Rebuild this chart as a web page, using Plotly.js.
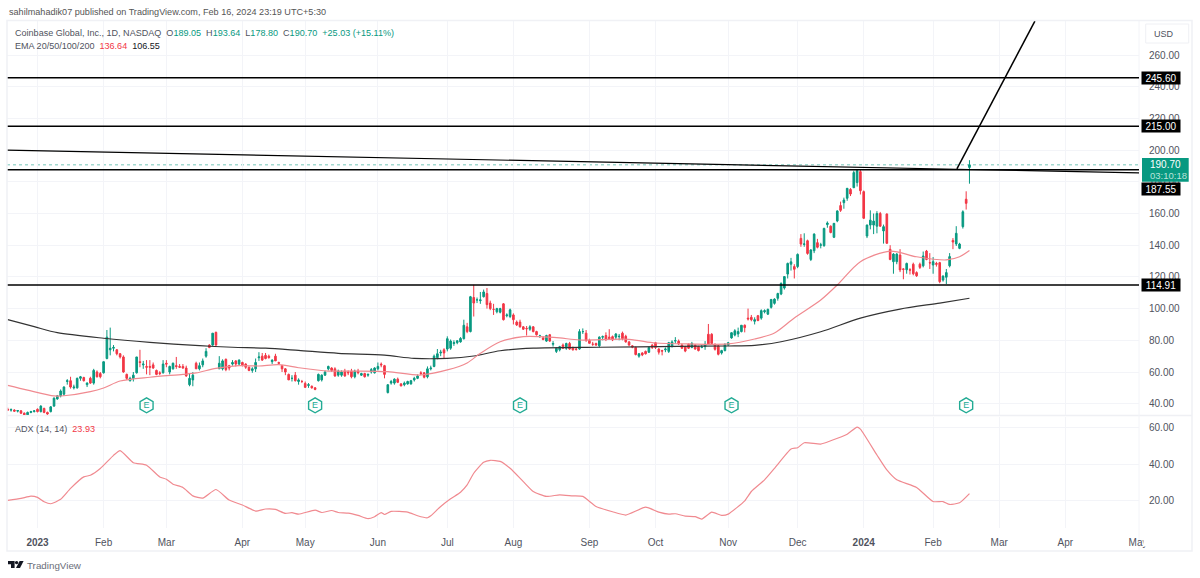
<!DOCTYPE html>
<html><head><meta charset="utf-8">
<script src="https://cdn.plot.ly/plotly-3.0.1.min.js"></script>
<style>html,body{margin:0;padding:0;background:#fff}#c{width:1200px;height:578px}</style>
</head><body><div id="c"></div>
<script>
// Bars run Dec 2022 (index -9) to 16 Feb 2024 (index 282); one row per month.
const firstBar = -9;
const opens = [
36.5,36,36,35.3,35.5,34,33,34.5,35,
36.5,35,37,34.5,35,38.5,43,45,46,54,54.5,50,50,56,56.5,52,56,53,60,59,
59.5,68.5,74,75,74,71.5,69.5,58.5,54.5,56,59.5,66.5,64.5,63.5,63.5,64.5,61,59.5,59.5,
65.5,60,62,64,63.5,63.5,62.5,52,55,65.5,62,64.5,70,77,77,85,62,62,68,64,65,67,65,
66,65,63,61,62,69,70,70.5,70,66.5,70,66,64,62,58.5,56,58,54,54,
52.8,51.5,51,50,54.5,55,58,62,62.5,62,58,58,60.5,60,60.5,57,60.5,58,59,58,60,59.5,
62,65,64,47,53,53,55.5,52.5,52,52.5,52.5,55,56,59.5,59.5,57,62,63.5,69,72,74,
74.5,75,78,78.5,79,81,88.5,85.5,107,105.5,105,107.5,109.5,103.5,99.5,98,97.7,103,95.5,95,
96,91.5,91.5,88.5,87.5,87,88.5,85.5,82.5,81.5,79.5,83.5,77.5,73,74,77,75,78,75.5,74.5,74.5,85.5,84.5,
80,77.5,78,76.5,82,83,82,82.3,82,82.3,84.5,82.5,79,76.5,75.5,70,72,73,72.5,77,
78.5,74.5,73.5,74,73,76,79.5,79.5,77,76,77.5,75.5,77,76,75.5,76,83.8,83.8,77.5,76.5,72,73.5,
77,81.5,83.3,84,85.5,89.5,94,94.5,92,95.5,94,98,96.5,100.8,103.3,106.5,109.2,113,121.8,128,126.5,
126.5,144.3,140.5,142.8,131,136.5,141.6,140,139.7,153,152,145,155.3,165,166.8,169.6,175.2,176.3,179.5,186.4,
173.8,145.8,152.7,152.7,152,160,149,159.7,137.4,129.6,129.6,133.8,125,124.5,124.5,128,122.7,128,127,136.3,129,
127.5,128.5,129,118,119.8,127,143,140.8,138,151.7,169,189.05];
const highs = [
37.5,37,36.5,36,36,34.5,35,35.5,35.8,
37,39,37.5,35,38.5,44,45.5,49,51,55.5,57,52,56.5,57.5,57,53.5,57,62,61,60,
66.5,86.5,88,77,74.5,72,70.5,59,57,60,69.5,74,67,67.5,67.5,66,61.5,60.5,67.5,
67.5,64,66,69.5,65,65,64,59,60,66.5,66,68.5,75,77.5,84.5,85.5,70,68,68.5,64.5,67.5,67.5,68,
66.5,65.5,63.5,63,68.5,72.5,72,72,71,68,71.5,66.5,64.5,62.5,59,58,60,56,55,
54,53,51.5,50.5,59,58.5,61,64,63,63,61.5,61,62,61,62,61.5,62,59.5,59.5,59,62.5,63,
66,66,64.5,52,55,56,56.5,53,54,54.5,55,57,58.5,60.5,60,63.5,64,71,74.5,74,75,
82.5,80.5,80,80,82,93,91,108,115,107,110.5,112,113,105,103,100.5,100.5,103.5,97,100,
97,92.5,93,89,89,89.5,89,86,83.5,82.5,83.5,84,79.5,75.5,76.5,78,78.5,79,76,75.5,87,87.5,86.5,
81,79,78.5,82.5,83,85,87,83,84.5,84,85.5,83.5,79.5,77,76,72,72.5,73.5,76,77.5,
79,75,74,75.5,79,80,82,80.5,78,76.5,78,79,77.5,76.5,77,79.5,90.3,84.5,78,77,74,78,
79,85,87,88,89.5,90,100,96,94.5,96,99.5,99.5,100,106,106.5,110,116.5,120.5,129,132,128,
134.8,147,147.5,143.5,137.5,147.5,144,141.5,151,155,152.5,154,162,167.5,170,176,176,187,187.5,187.8,
174.5,153,162,160,161.5,161,153,160,140,135,135,137.5,125.5,129,125.5,129,123.5,129,136,137,135,
132.5,129.5,129.5,121,125,135,144.5,152,141.5,162,174,193.64];
const lows = [
35.5,35,35,34.5,33.5,32.5,32.8,34,34.5,
34.5,34.5,34,33,34.5,38,42.5,44,45,52,49.5,49,49.5,54.5,54,50.5,52.5,52,56.5,56,
59,68,70.5,73,70.5,68.5,59.5,55,54,54,59,63,62,58.5,58,62,58,58,59,
63,58.5,61.5,62,62.5,62,57,51,51,62,61,63,69,75,76.5,76.5,62,61,60.5,61,64,63.5,64,
63.5,62,60.5,59.5,60,67,67,68,68.5,65,67,65,60,58,55,54,54,52,53,
50,50,49.5,48.5,54,54,57.5,61,60,57,57,57,57,58,56,56,58.5,57.5,56.5,57,59,59,
61,63,56,46.5,52,52,53,51,51,52,52,54,55.5,58,56,56,61,63,68,70,68.5,
73,74,76.5,77.5,78.5,80.5,84.5,85,95,103.5,103,107,100,99,96,97,97,92.5,94.5,94,
90,89,88,86.5,83,86,85,83,81.5,80,79,79,76,72,73,74.5,74,74,73.5,73.5,74,84,79,
78,76.5,76.5,75.5,80,79.5,80.5,79.5,80.5,80,80,78.5,76.5,75,70.5,69,70,71,72,74.5,
74.5,71,70.5,72.5,72,75.5,78,77,74.5,72.5,74.5,75,74,73,75,74,77.5,77.5,73.5,70.5,71,73,
76.5,81,82.5,82,85,85,92.5,92,90,92,93,97,96,100,102.5,105,108.5,112,119,124,119,
125.5,139,139,134,130,135,138,138,139,151,147.5,144.5,154.5,161,163,168,171,176,177,172,
156.5,144.5,150,147,147.5,151.5,141,141,130.5,122,128,123,118.5,122,121.5,121,120,125,126,130.5,125,
122,126.5,116,117,115.5,126,137.5,139.5,137.5,150.5,162.5,178.8];
const closes = [
36,36.2,35.3,35.7,34,33,34.5,35,35.5,
35,38.5,34.5,33.5,38,43.5,45,48,50.5,54.5,50.5,50.5,56,57,54.5,53,53,61,57,57,
66.5,82,75,75.5,71.5,69.5,60,56,56,58,69.5,66,65,63,63,62.5,58.5,59,65,
65,63.5,65.5,63.5,63,62.5,57.5,56,58,62,64,67,73,75.5,84.5,77,65.5,67,61.5,62.5,66,65,67.5,
64.5,63,61,62,66,69.5,67.5,68.5,69,67.5,67,65.5,62,60,55,56,54.5,55,54,
50.3,52,50,49,58.5,58,60,63.5,61,57.5,60.5,60,57.5,59.5,57,60.5,59.5,59,57,58.5,61.5,62.5,
63.5,64.5,58.5,52,54,55.5,53.5,51.2,53,54,54.5,56,57.5,59,56.7,62,62.5,70,71.5,72.5,72,
81,79.5,78.5,79.7,81.2,89.5,85.5,107.5,103.5,105.5,105.5,110.5,102.5,100,99.5,100,100,93,96,99.2,
93,89.7,88.5,87,87.3,88.5,85.5,83.5,82.8,80.5,83,79.5,78,75,76,75,78,74.5,74,74.3,85.5,85.5,80,
78.1,77.5,77,82,82.3,80.5,81,80.2,84,82.5,81,79,77,75.7,71,71.5,70.8,71.5,75.5,75.5,
75.5,72.5,73.2,74.5,78.5,79,79.8,77.7,75,73.2,75,78,74.5,73.5,75.7,77.5,77.7,78,74.3,71.2,73.5,77.5,
78.5,84.8,86,85.5,89.5,88,93.5,93,93,92.5,98.7,98.7,99.5,105.8,106,109.5,115.9,120.2,128.5,129.5,124.8,
134.2,140.7,140.8,134.8,137,147,138.7,140.2,150.6,154,148,153.8,161.6,162,168.5,175.9,172.3,185.8,187,174.4,
157,152.7,155.8,155.2,160,152,151.7,141.2,131,134.4,134.4,124.4,124.8,128.5,124.3,122,120.7,126,133.2,131,128.8,
129.6,128,117,120.5,122.7,132.8,142,147.5,140.7,161.1,166.4,190.7];

const ema50Bars = [-9,-3,5,8,16,20,25,34,44,48,54,61,67,73,79,88,97,106,116,124,130,134,140,147,152,158,164,179,187,197,209,217,223,229,237,242,249,258,266,275,279,282];
const ema50Vals = [51.6,48.6,44.9,45,47.6,49.9,54.3,56.7,58.5,59.4,62.3,64,63.8,64.6,62.7,60.6,60.6,60.2,58.1,61.3,65.7,71.8,79.1,82.3,82.3,81.5,80.2,80.6,78.3,77.7,77.7,80.8,84.6,94.1,105.4,114.9,129.6,136.3,132.7,130.7,132.7,136.64];
const ema200Bars = [-9,-1,6,20,34,49,59,69,79,91,105,114,124,132,140,150,170,194,209,217,225,237,249,261,273,282];
const ema200Vals = [93,88.6,84.8,81.3,78.7,76.6,75.6,75,73.6,71.8,70.6,68.6,68.6,70.1,73.4,75,75.6,76.2,76.4,76.8,79.1,85.4,94,99.7,103.5,106.55];

const adxBars = [-9,-5,-2,0,2,4,7,10,14,16,19,23,25,29,33,37,39,41,44,47,50,54,58,62,66,69,72,75,77,79,84,86,89,91,94,97,100,102,104,105,107,112,115,118,119,122,125,128,130,132,135,137,140,143,147,150,154,158,162,165,169,174,178,184,188,191,193,196,199,201,204,207,209,214,216,220,223,228,230,232,237,240,245,248,249,254,257,260,266,271,274,276,279,282];
const adxVals = [20.2,21.3,22.6,21.9,19.5,18.4,20.8,26.8,33.1,34,37.7,44.9,47.5,40.9,39.5,33.1,31.8,29.1,27.3,22.7,21.5,26.2,20.4,17.7,14.4,15.5,15.3,13.1,13.5,12.7,14.9,13.6,14.7,13.6,13.3,12,10.2,11.3,13.5,12.5,14.2,13.8,11.8,10.7,11.8,16.9,21.1,24.7,28.7,35.1,41.1,42.2,41.6,37.8,30.5,25.1,22.4,23.3,22.7,22.4,16.9,14,12.2,16.5,13.8,12.7,12.9,11.6,11.3,10,13.8,12,12.7,20,25.1,31.5,37.8,48.4,49.1,51.8,51.1,52.9,56.5,60.4,59.3,45.1,36.9,31.5,27.3,19.6,19.6,18,18.9,23.93];

const earningsBars = [33,84,146,210,281];
const earningsLevel = [39,39,39,39,39];
const levels = [245.60,215.00,187.55,114.91];
const lastClose = 190.70;
const priceTicks = [40,60,80,100,120,140,160,180,200,220,240,260];
const adxTicks = [20,40,60];
const timeBars = [0,20,39,62,81,103,124,144,167,187,209,230,250,271,291,311,333];
const timeLabels = ['<b>2023</b>','Feb','Mar','Apr','May','Jun','Jul','Aug','Sep','Oct','Nov','Dec','<b>2024</b>','Feb','Mar','Apr','May'];

const UP='#089981', DOWN='#F23645', SOFT='#f08a90', GRID='#f3f4f8', TXT='#50535e';
const FONT='"Liberation Sans", Arial, sans-serif';
const barIdx = opens.map((_,i)=>firstBar+i);
const L=7,R=1139,T=21,B=528;
const px=x=>(x-L)/(R-L), py=y=>1-(y-T)/(B-T);

function label(text,x,y,opt){return Object.assign({text,xref:'paper',yref:'paper',x:px(x),y:py(y),xanchor:'left',yanchor:'middle',showarrow:false,borderpad:0,font:{family:FONT,size:9.05,color:TXT}},opt||{});}
function tag(text,y,yref){return {text:text,xref:'paper',yref:yref||'paper',x:px(1161),y:y,xanchor:'center',yanchor:'middle',showarrow:false,bgcolor:'#000',width:38,height:12.4,borderpad:0,font:{family:FONT,size:10,color:'#fff'}};}
function rectPx(x0,y0,x1,y1,o){return Object.assign({type:'rect',xref:'paper',yref:'paper',x0:px(x0),x1:px(x1),y0:py(y0),y1:py(y1),layer:'above'},o);}
function pathPx(d,o){return Object.assign({type:'path',xref:'paper',yref:'paper',path:d.replace(/(-?[\d.]+) (-?[\d.]+)/g,(m,a,b)=>px(+a)+' '+py(+b)),layer:'above'},o);}
const hline=(v)=>({type:'line',xref:'paper',yref:'y',x0:0,x1:1,y0:v,y1:v,line:{color:'#000',width:1.5},layer:'above'});

const traces=[
 {type:'scatter',mode:'lines',x:ema200Bars,y:ema200Vals,line:{color:'#333',width:1.2,shape:'spline',smoothing:0.8},hoverinfo:'skip',xaxis:'x',yaxis:'y'},
 {type:'scatter',mode:'lines',x:ema50Bars,y:ema50Vals,line:{color:SOFT,width:1.2,shape:'spline',smoothing:0.8},hoverinfo:'skip',xaxis:'x',yaxis:'y'},
 {type:'candlestick',x:barIdx,open:opens,high:highs,low:lows,close:closes,xaxis:'x',yaxis:'y',whiskerwidth:0,hoverinfo:'skip',
  increasing:{line:{color:UP,width:1},fillcolor:UP},decreasing:{line:{color:DOWN,width:1},fillcolor:DOWN}},
 {type:'scatter',mode:'markers+text',x:earningsBars,y:earningsLevel,text:earningsBars.map(()=>'E'),textposition:'middle center',
  textfont:{family:FONT,size:9,color:'#22ab94'},marker:{symbol:'hexagon-open',size:15,color:'#22ab94',line:{width:1.4,color:'#22ab94'}},hoverinfo:'skip',xaxis:'x',yaxis:'y',cliponaxis:false},
 {type:'scatter',mode:'lines',x:adxBars,y:adxVals,line:{color:SOFT,width:1.2,shape:'spline',smoothing:0.5},hoverinfo:'skip',xaxis:'x',yaxis:'y2'}
];

const shapes=[
 hline(levels[0]),hline(levels[1]),hline(levels[2]),hline(levels[3]),
 {type:'line',xref:'paper',yref:'y',x0:0,x1:1,y0:lastClose,y1:lastClose,line:{color:'rgba(8,153,129,.55)',width:1,dash:'dot'},layer:'below'},
 {type:'line',xref:'x',yref:'y',x0:-9.23,y0:200,x1:333.3,y1:185.6,line:{color:'#000',width:1.2},layer:'above'},
 {type:'line',xref:'x',yref:'y',x0:278.2,y0:188.1,x1:301.8,y1:281.4,line:{color:'#000',width:1.5},layer:'above'},
 rectPx(7,20.5,1192,551,{line:{color:'#f0f1f5',width:1.5},fillcolor:'rgba(0,0,0,0)'}),
 {type:'line',xref:'paper',yref:'paper',x0:px(7),x1:px(1192),y0:py(415.5),y1:py(415.5),line:{color:'#eff0f4',width:1.5},layer:'below'},
 {type:'line',xref:'paper',yref:'paper',x0:1,x1:1,y0:py(551),y1:1,line:{color:'#f3f4f8',width:1},layer:'below'},
 rectPx(1142,158,1188.7,181.7,{line:{width:0},fillcolor:UP}),
 rectPx(1145.7,24,1188.7,43,{line:{color:'#eff0f4',width:1},fillcolor:'#fff'}),
 pathPx('M8 561 L14.6 561 L14.6 568 L11 568 L11 564.2 L8 564.2 Z',{line:{width:0},fillcolor:'#131722'}),
 pathPx('M19.6 561 L23.6 561 L20 568 L16 568 Z',{line:{width:0},fillcolor:'#131722'}),
 {type:'circle',xref:'paper',yref:'paper',x0:px(14.9),x1:px(18.3),y0:py(564.2),y1:py(560.9),line:{width:0},fillcolor:'#131722',layer:'above'}
];

const a=[
 label('sahilmahadik07 published on TradingView.com, Feb 16, 2024 23:19 UTC+5:30',8,12,{font:{family:FONT,size:9.1,color:'#555'}}),
 label(`Coinbase Global, Inc., 1D, NASDAQ  O<span style="color:${UP}">189.05</span>  H<span style="color:${UP}">193.64</span>  L<span style="color:${UP}">178.80</span>  C<span style="color:${UP}">190.70</span>  <span style="color:${UP}">+25.03 (+15.11%)</span>`,14,33),
 label(`EMA 20/50/100/200  <span style="color:${DOWN}">136.64</span>  <span style="color:#131722">106.55</span>`,14,46),
 label(`ADX (14, 14)  <span style="color:${DOWN}">23.93</span>`,14,428.5),
 label('TradingView',26,565,{font:{family:FONT,size:9.8,color:'#6a6d78'}}),
 label('USD',1153,33.5,{font:{family:FONT,size:9,color:TXT}}),
 tag('245.60',levels[0],'y'),tag('215.00',levels[1],'y'),tag('114.91',levels[3],'y'),
 tag('187.55',py(188.8)),
 label('190.70',1149,164.5,{font:{family:FONT,size:10,color:'#fff'}}),
 label('03:10:18',1149,175.5,{font:{family:FONT,size:9.5,color:'#b9e3da'}}),
 {text:' ',xref:'paper',yref:'paper',x:px(1143),y:py(539),xanchor:'left',yanchor:'middle',showarrow:false,bgcolor:'#fff',width:8,height:14,borderpad:0}
];

const layout={width:1200,height:578,margin:{l:L,r:1200-R,t:T,b:578-B},paper_bgcolor:'#fff',plot_bgcolor:'#fff',showlegend:false,
 boxgap:0.3,dragmode:false,hovermode:false,
 xaxis:{type:'linear',range:[-9.23,333.3],anchor:'y2',rangeslider:{visible:false},tickmode:'array',tickvals:timeBars,ticktext:timeLabels,
  tickfont:{family:FONT,size:10,color:TXT},ticks:'outside',ticklen:5,tickcolor:'rgba(0,0,0,0)',gridcolor:GRID,gridwidth:1,showline:false,zeroline:false},
 yaxis:{domain:[py(415),1],range:[32.87,281.45],side:'right',anchor:'x',tickmode:'array',tickvals:priceTicks,tickformat:'.2f',
  tickfont:{family:FONT,size:10,color:TXT},ticks:'outside',ticklen:7,tickcolor:'rgba(0,0,0,0)',gridcolor:GRID,gridwidth:1,showline:false,zeroline:false},
 yaxis2:{domain:[0,py(416.5)],range:[5.1,66.2],side:'right',anchor:'x',tickmode:'array',tickvals:adxTicks,tickformat:'.2f',
  tickfont:{family:FONT,size:10,color:TXT},ticks:'outside',ticklen:7,tickcolor:'rgba(0,0,0,0)',gridcolor:GRID,gridwidth:1,showline:false,zeroline:false},
 shapes:shapes,annotations:a};
Plotly.newPlot('c',traces,layout,{staticPlot:true,displayModeBar:false});
</script></body></html>
